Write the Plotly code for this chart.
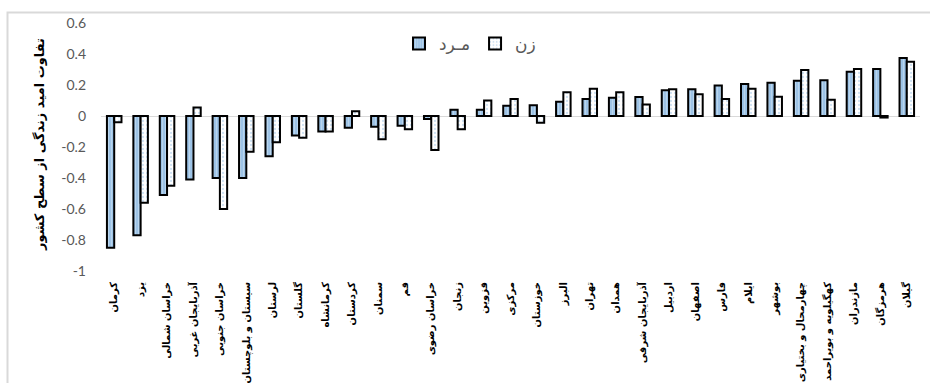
import plotly.graph_objects as go

# Provinces, ordered by male life-expectancy gap
provinces = [
    "کرمان", "یزد", "خراسان شمالی", "آذربایجان غربی", "خراسان جنوبی",
    "سیستان و بلوچستان", "لرستان", "گلستان", "کرمانشاه", "کردستان",
    "سمنان", "قم", "خراسان رضوی", "زنجان", "قزوین", "مرکزی", "خوزستان",
    "البرز", "تهران", "همدان", "آذربایجان شرقی", "اردبیل", "اصفهان",
    "فارس", "ایلام", "بوشهر", "چهارمحال و بختیاری", "کهگیلویه و بویراحمد",
    "مازندران", "هرمزگان", "گیلان",
]

# Difference from national life expectancy
male = [
    -0.85, -0.77, -0.51, -0.41, -0.40, -0.40, -0.26, -0.125, -0.10, -0.075,
    -0.07, -0.063, -0.02, 0.04, 0.04, 0.066, 0.07, 0.092, 0.11, 0.118,
    0.123, 0.166, 0.172, 0.196, 0.206, 0.215, 0.228, 0.23, 0.286, 0.303, 0.374,
]
female = [
    -0.04, -0.56, -0.45, 0.055, -0.60, -0.23, -0.17, -0.14, -0.10, 0.03,
    -0.15, -0.085, -0.22, -0.085, 0.10, 0.11, -0.043, 0.153, 0.176, 0.153,
    0.075, 0.172, 0.14, 0.11, 0.176, 0.125, 0.297, 0.105, 0.303, -0.01, 0.35,
]

series_names = ["مـرد", "زن"]
y_ticks = [0.6, 0.4, 0.2, 0, -0.2, -0.4, -0.6, -0.8, -1]
y_tick_text = ["0.6", "0.4", "0.2", "0", "-0.2", "-0.4", "-0.6", "-0.8", "-1"]
y_title = "تفاوت امید زندگی از سطح کشور"

FA_FONT = "DejaVu Sans"
NUM_FONT = "Lato, Open Sans, sans-serif"

fig = go.Figure()
fig.add_trace(go.Bar(
    name=series_names[0], x=provinces, y=male,
    marker=dict(
        color="#9DC3E6",
        line=dict(color="black", width=2),
        pattern=dict(shape="|", fgcolor="#DDEBF7", bgcolor="#9DC3E6",
                     size=3, solidity=0.3),
    ),
))
fig.add_trace(go.Bar(
    name=series_names[1], x=provinces, y=female,
    marker=dict(
        color="white",
        line=dict(color="black", width=2),
        pattern=dict(shape=".", fgcolor="#9DC3E6", bgcolor="white",
                     size=4, solidity=0.25),
    ),
))

L, R, T, B = 101, 10, 23, 112
W, H = 930, 383
pw, ph = W - L - R, H - T - B


def px_x(p):
    return (p - L) / pw


def px_y(p):
    return (H - B - p) / ph


fig.update_layout(
    width=W, height=H,
    margin=dict(l=L, r=R, t=T, b=B, pad=0),
    paper_bgcolor="white", plot_bgcolor="white",
    barmode="group", bargap=0.45, bargroupgap=0,
    showlegend=True,
    legend=dict(
        orientation="h", x=px_x(470), y=px_y(44),
        xanchor="center", yanchor="middle",
        font=dict(family=FA_FONT, size=17, color="#595959"),
        bgcolor="rgba(0,0,0,0)", itemwidth=30,
    ),
    xaxis=dict(
        type="category", tickangle=-90, showgrid=False, showline=False,
        ticks="", ticklabelstandoff=8,
        tickfont=dict(family=FA_FONT, size=10, color="black", weight="bold"),
        automargin=False,
    ),
    yaxis=dict(
        range=[-1, 0.6], tickvals=y_ticks, ticktext=y_tick_text,
        showgrid=False, showline=False, zeroline=True,
        zerolinecolor="#D9D9D9", zerolinewidth=1.3,
        ticks="", ticklabelstandoff=14,
        tickfont=dict(family=NUM_FONT, size=14, color="#595959"),
        automargin=False,
    ),
    annotations=[dict(
        text=y_title, textangle=-90, xref="paper", yref="paper",
        x=px_x(39), y=px_y(145), xanchor="center", yanchor="middle",
        showarrow=False,
        font=dict(family=FA_FONT, size=13, color="black", weight="bold"),
    )],
    shapes=[dict(
        type="rect", xref="paper", yref="paper", layer="below",
        x0=px_x(7.5), x1=px_x(940), y0=px_y(400), y1=px_y(12.5),
        line=dict(color="#D9D9D9", width=2), fillcolor="rgba(0,0,0,0)",
    )],
)

fig.write_html("out.html")
